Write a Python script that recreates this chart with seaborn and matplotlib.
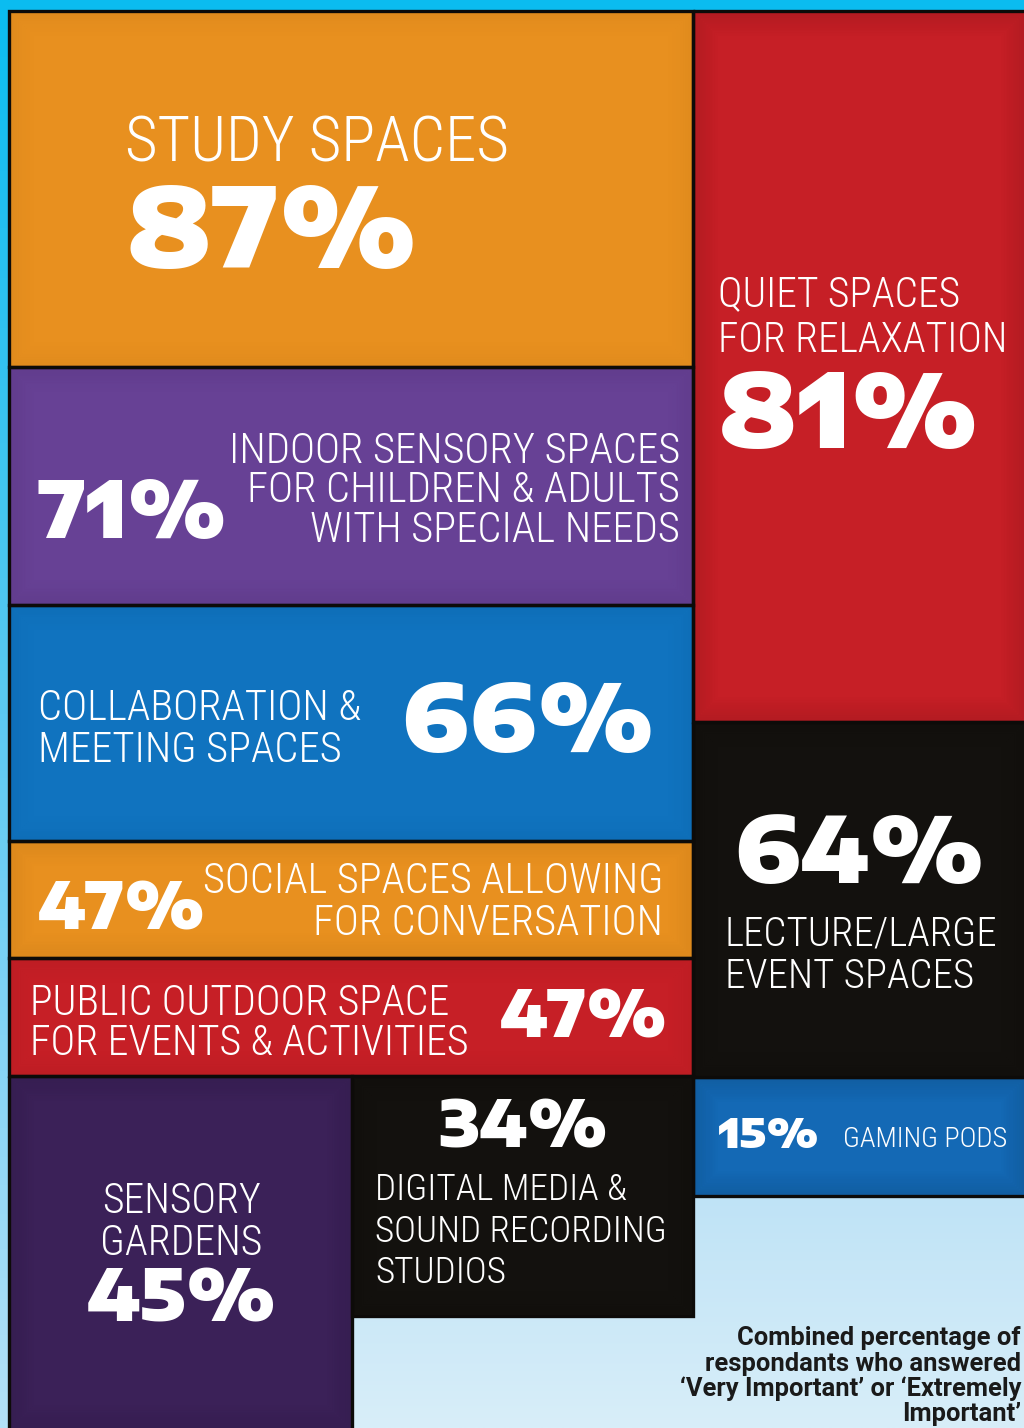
import numpy as np
import matplotlib
matplotlib.use("Agg")
import matplotlib.pyplot as plt
from matplotlib.patches import Rectangle
from matplotlib import font_manager as fm
import seaborn as sns

# ---------------- data ----------------
categories = [
    "STUDY SPACES",
    "QUIET SPACES\nFOR RELAXATION",
    "INDOOR SENSORY SPACES\nFOR CHILDREN & ADULTS\nWITH SPECIAL NEEDS",
    "COLLABORATION &\nMEETING SPACES",
    "LECTURE/LARGE\nEVENT SPACES",
    "SOCIAL SPACES ALLOWING\nFOR CONVERSATION",
    "PUBLIC OUTDOOR SPACE\nFOR EVENTS & ACTIVITIES",
    "SENSORY\nGARDENS",
    "DIGITAL MEDIA &\nSOUND RECORDING\nSTUDIOS",
    "GAMING PODS",
]
values = [87, 81, 71, 66, 64, 47, 47, 45, 34, 15]
footnote = ["Combined percentage of", "respondants who answered",
            "\u2018Very Important\u2019 or \u2018Extremely", "Important\u2019"]

# ---------------- layout / style ----------------
W, H = 1024, 1428
boxes = [  # x0, y0, x1, y1 (pixels)
    (9, 11, 693, 367), (693, 11, 1026, 722), (9, 367, 693, 605),
    (9, 605, 693, 841), (693, 722, 1026, 1077), (9, 841, 693, 958),
    (9, 958, 693, 1076), (9, 1076, 352, 1430), (352, 1076, 693, 1316),
    (693, 1077, 1026, 1196),
]
colors = ["#e8901f", "#c61f26", "#674195", "#1073bf", "#13110e",
          "#e8901f", "#c61f26", "#3b2158", "#13110e", "#1469b5"]
vignette = [0.5, 1.6, 0.8, 0.6, 0.6, 0.8, 0.6, 1.2, 0.6, 1.8]

sns.set_theme(style="white")
palette = sns.color_palette(colors)

names = {f.name for f in fm.fontManager.ttflist}


def pick(cands, default="DejaVu Sans"):
    for c in cands:
        if c in names:
            return c
    return default


narrow = pick(["Roboto Condensed", "Liberation Sans Narrow", "Archivo Narrow"])
wide = pick(["Encode Sans Expanded", "Archivo Black", "DejaVu Sans"])
foot = pick(["Roboto", "Liberation Sans"])
plt.rcParams["font.family"] = [narrow, "DejaVu Sans"]

fig = plt.figure(figsize=(W / 100, H / 100), dpi=100)
fig.patch.set_facecolor("#0bbcf0")
ax = fig.add_axes([0, 0, 1, 1])
ax.set_xlim(0, W)
ax.set_ylim(H, 0)
ax.axis("off")

# left border gradient
grad = np.linspace(0, 1, 200)[:, None]
cm = matplotlib.colors.LinearSegmentedColormap.from_list("lb", ["#0bbcf0", "#5cc9f2", "#b4e1f7"])
ax.imshow(grad, extent=[0, 10, 1428, 0], cmap=cm, aspect="auto", zorder=0)
# light blue lower-right area
cm2 = matplotlib.colors.LinearSegmentedColormap.from_list("lb2", ["#bfe3f6", "#d8eef9"])
ax.imshow(grad, extent=[352, 1024, 1428, 1196], cmap=cm2, aspect="auto", zorder=0)

for (x0, y0, x1, y1), c, v in zip(boxes, palette, vignette):
    ax.add_patch(Rectangle((x0, y0), x1 - x0, y1 - y0, facecolor=c,
                           edgecolor="none", zorder=1))
    for k in range(12):
        ins = 2 + k * 2
        ax.add_patch(Rectangle((x0 + ins, y0 + ins), x1 - x0 - 2 * ins, y1 - y0 - 2 * ins,
                               facecolor="none", edgecolor="black",
                               linewidth=1.6, alpha=0.05 * v * (1 - k / 12), zorder=2))
    ax.add_patch(Rectangle((x0, y0), x1 - x0, y1 - y0, facecolor="none",
                           edgecolor="#0d0b09", linewidth=2.4, zorder=3))

fig.canvas.draw()
renderer = fig.canvas.get_renderer()


def fit_lines(text, x, baselines, ha, target_w, family, weight="normal",
              color="white"):
    lines = text.split("\n")
    ts = [ax.text(x, b, ln, ha=ha, va="baseline", fontsize=20,
                  family=[family, "DejaVu Sans"],
                  fontweight=weight, color=color, zorder=5)
          for ln, b in zip(lines, baselines)]
    w = max(t.get_window_extent(renderer).width for t in ts)
    size = 20 * target_w / w
    for t in ts:
        t.set_fontsize(size)
    return ts


pct = [f"{v}%" for v in values]

# label placements: (x anchor, baselines, ha, target width)
label_pos = [
    (125, [162], "left", 385),
    (718, [306, 352], "left", 290),
    (680, [463, 502, 542], "right", 453),
    (38, [720, 762], "left", 324),
    (725, [945, 988], "left", 273),
    (663, [893, 935], "right", 460),
    (30, [1015, 1055], "left", 438),
    (181, [1213, 1255], "center", 162),
    (375, [1200, 1242, 1283], "left", 292),
    (843, [1147], "left", 165),
]
# percentage placements: (x, baseline, ha, target width)
pct_pos = [
    (125, 268, "left", 292),
    (718, 448, "left", 262),
    (38, 538, "left", 190),
    (400, 752, "left", 255),
    (733, 883, "left", 252),
    (38, 930, "left", 168),
    (500, 1037, "left", 168),
    (182, 1322, "center", 190),
    (523, 1148, "center", 170),
    (718, 1148, "left", 102),
]

for cat, (x, bl, ha, tw) in zip(categories, label_pos):
    fit_lines(cat, x, bl, ha, tw, narrow, weight="light")

for p, (x, b, ha, tw) in zip(pct, pct_pos):
    fit_lines(p, x, [b], ha, tw, wide, weight="black")

fit_lines("\n".join(footnote), 1021, [1345, 1371, 1396, 1421], "right", 340,
          foot, weight="bold", color="#1a1a1a")

fig.savefig("out.png", dpi=100, facecolor=fig.get_facecolor())
